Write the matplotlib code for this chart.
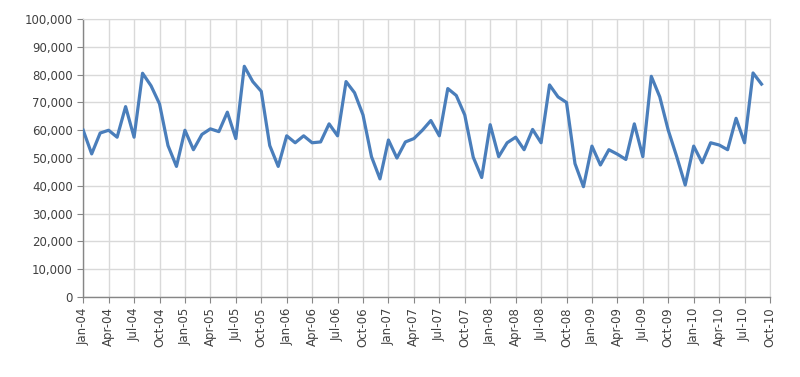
import matplotlib
matplotlib.use("Agg")
import matplotlib.pyplot as plt
from matplotlib.ticker import FuncFormatter

# monthly values, Jan-04 .. Sep-10
values_2004 = [60000, 51500, 59000, 60000, 57500, 68500, 57500, 80500, 76000, 69500, 54500, 47000]
values_2005 = [60000, 53000, 58500, 60500, 59500, 66500, 57000, 83000, 77500, 74000, 54500, 47000]
values_2006 = [58000, 55500, 58000, 55500, 55800, 62300, 58000, 77500, 73500, 65500, 50500, 42500]
values_2007 = [56500, 50000, 55800, 57000, 60000, 63500, 58000, 75000, 72500, 65500, 50300, 43000]
values_2008 = [62000, 50500, 55500, 57500, 53000, 60300, 55500, 76300, 72000, 70000, 48000, 39700]
values_2009 = [54300, 47500, 53000, 51400, 49500, 62300, 50500, 79400, 72000, 60000, 50500, 40300]
values_2010 = [54300, 48300, 55500, 54700, 53000, 64300, 55500, 80600, 76600]

values = (values_2004 + values_2005 + values_2006 + values_2007
          + values_2008 + values_2009 + values_2010)

tick_labels = []
for yr in range(4, 11):
    for m in ["Jan", "Apr", "Jul", "Oct"]:
        tick_labels.append(f"{m}-{yr:02d}")
tick_labels = tick_labels[:28]  # Jan-04 .. Oct-10

months = list(range(len(values)))

fig = plt.figure(figsize=(8, 3.77), dpi=100)
ax = fig.add_axes([0.104, 0.212, 0.8585, 0.7375])

ax.plot(months, values, color="#4A7EBB", linewidth=2.3, solid_joinstyle="round", zorder=3)

ax.set_xlim(0, 81)
ax.set_ylim(0, 100000)
ax.set_xticks(range(0, 82, 3))
ax.set_xticklabels(tick_labels, rotation=90, fontsize=8.5, color="#404040")
ax.set_yticks(range(0, 100001, 10000))
ax.yaxis.set_major_formatter(FuncFormatter(lambda v, p: f"{int(v):,}"))
ax.tick_params(axis="y", labelsize=8.5, labelcolor="#404040")

ax.grid(True, color="#D9D9D9", linewidth=1.0)
ax.set_axisbelow(True)

for side in ["top", "right"]:
    ax.spines[side].set_color("#D9D9D9")
for side in ["left", "bottom"]:
    ax.spines[side].set_color("#868686")
    ax.spines[side].set_linewidth(1.0)
ax.tick_params(length=4, color="#868686", direction="out")

fig.savefig("out.png", dpi=100)
